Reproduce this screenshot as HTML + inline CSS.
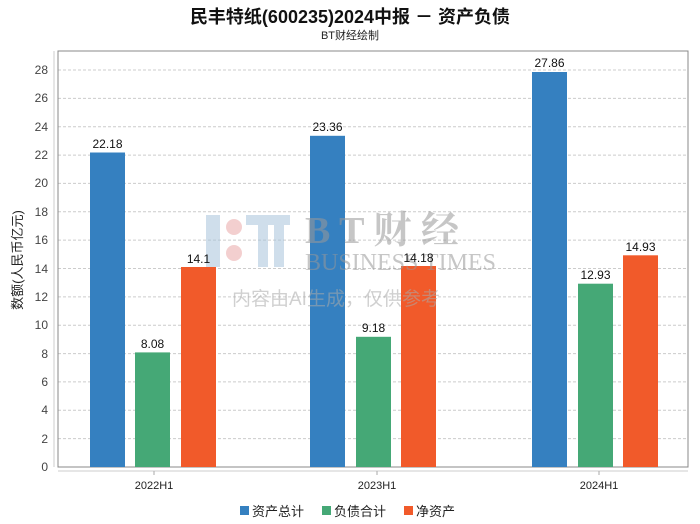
<!DOCTYPE html>
<html><head><meta charset="utf-8"><style>
body{margin:0;background:#fff;}
svg{display:block;font-family:"Liberation Sans","Noto Sans CJK SC",sans-serif;}
</style></head><body>
<svg width="700" height="524" viewBox="0 0 700 524" xmlns="http://www.w3.org/2000/svg">
<rect width="700" height="524" fill="#fff"/>
<text x="350" y="23" text-anchor="middle" font-size="18" font-weight="bold" fill="#111">民丰特纸(600235)2024中报 － 资产负债</text>
<text x="350" y="39" text-anchor="middle" font-size="11" fill="#222">BT财经绘制</text>
<g stroke="#ccc" stroke-dasharray="3,2" stroke-width="1">
<line x1="58" x2="688" y1="438.6" y2="438.6"/><line x1="58" x2="688" y1="410.3" y2="410.3"/>
<line x1="58" x2="688" y1="381.9" y2="381.9"/><line x1="58" x2="688" y1="353.6" y2="353.6"/>
<line x1="58" x2="688" y1="325.2" y2="325.2"/><line x1="58" x2="688" y1="296.9" y2="296.9"/>
<line x1="58" x2="688" y1="268.5" y2="268.5"/><line x1="58" x2="688" y1="240.1" y2="240.1"/>
<line x1="58" x2="688" y1="211.8" y2="211.8"/><line x1="58" x2="688" y1="183.4" y2="183.4"/>
<line x1="58" x2="688" y1="155.1" y2="155.1"/><line x1="58" x2="688" y1="126.7" y2="126.7"/>
<line x1="58" x2="688" y1="98.4" y2="98.4"/><line x1="58" x2="688" y1="70" y2="70"/>
</g>
<rect x="58" y="51" width="630" height="416" fill="none" stroke="#888" stroke-width="1"/>
<line x1="54" y1="51" x2="54" y2="467" stroke="#ccc"/>
<line x1="58" y1="471" x2="688" y2="471" stroke="#ccc"/>
<g font-size="12" fill="#444" text-anchor="end">
<text x="48" y="471">0</text><text x="48" y="443">2</text><text x="48" y="414">4</text><text x="48" y="386">6</text>
<text x="48" y="358">8</text><text x="48" y="329">10</text><text x="48" y="301">12</text><text x="48" y="273">14</text>
<text x="48" y="244">16</text><text x="48" y="216">18</text><text x="48" y="187">20</text><text x="48" y="159">22</text>
<text x="48" y="131">24</text><text x="48" y="102">26</text><text x="48" y="74">28</text>
</g>
<text transform="translate(22,260) rotate(-90)" text-anchor="middle" font-size="13" fill="#222">数额(人民币亿元)</text>
<g>
<rect x="90" y="152.5" width="35" height="314.5" fill="#3580c0"/>
<rect x="135" y="352.4" width="35" height="114.6" fill="#45a876"/>
<rect x="181" y="267" width="35" height="200" fill="#f15a2a"/>
<rect x="310" y="135.8" width="35" height="331.2" fill="#3580c0"/>
<rect x="356" y="336.8" width="35" height="130.2" fill="#45a876"/>
<rect x="401" y="266" width="35" height="201" fill="#f15a2a"/>
<rect x="532" y="72" width="35" height="395" fill="#3580c0"/>
<rect x="578" y="283.7" width="35" height="183.3" fill="#45a876"/>
<rect x="623" y="255.3" width="35" height="211.7" fill="#f15a2a"/>
</g>
<!-- watermark -->
<g opacity="0.55">
<rect x="206" y="215" width="14" height="52" fill="#a9c4dc"/>
<circle cx="234" cy="227" r="8" fill="#eaa8a8"/><circle cx="234" cy="253" r="8" fill="#eaa8a8"/>
<rect x="246" y="215" width="44" height="10" fill="#a9c4dc"/><rect x="258" y="225" width="10" height="42" fill="#a9c4dc"/><rect x="274" y="225" width="10" height="42" fill="#a9c4dc"/>
<text x="305" y="243" font-family="Liberation Serif,'Noto Serif CJK SC',serif" font-size="38" font-weight="bold" fill="#999">B T 财 经</text>
<text x="305" y="270" font-family="Liberation Serif,serif" font-size="24" fill="#999">BUSINESS TIMES</text>
<text x="232" y="305" font-size="19" fill="#aaa">内容由AI生成，仅供参考</text>
</g>
<g font-size="12" fill="#111" text-anchor="middle">
<text x="107.5" y="148">22.18</text><text x="152.5" y="348">8.08</text><text x="198.5" y="263">14.1</text>
<text x="327.5" y="131">23.36</text><text x="373.5" y="332">9.18</text><text x="418.5" y="262">14.18</text>
<text x="549.5" y="67">27.86</text><text x="595.5" y="279">12.93</text><text x="640.5" y="251">14.93</text>
</g>
<g stroke="#aaa"><line x1="154" y1="471" x2="154" y2="475"/><line x1="377" y1="471" x2="377" y2="475"/><line x1="599" y1="471" x2="599" y2="475"/></g>
<g font-size="11" fill="#222" text-anchor="middle">
<text x="154" y="489">2022H1</text><text x="377" y="489">2023H1</text><text x="599" y="489">2024H1</text>
</g>
<g font-size="13" fill="#222">
<rect x="240" y="506" width="9" height="9" fill="#3580c0"/><text x="252" y="516">资产总计</text>
<rect x="322" y="506" width="9" height="9" fill="#45a876"/><text x="334" y="516">负债合计</text>
<rect x="404" y="506" width="9" height="9" fill="#f15a2a"/><text x="416" y="516">净资产</text>
</g>
</svg>
</body></html>
